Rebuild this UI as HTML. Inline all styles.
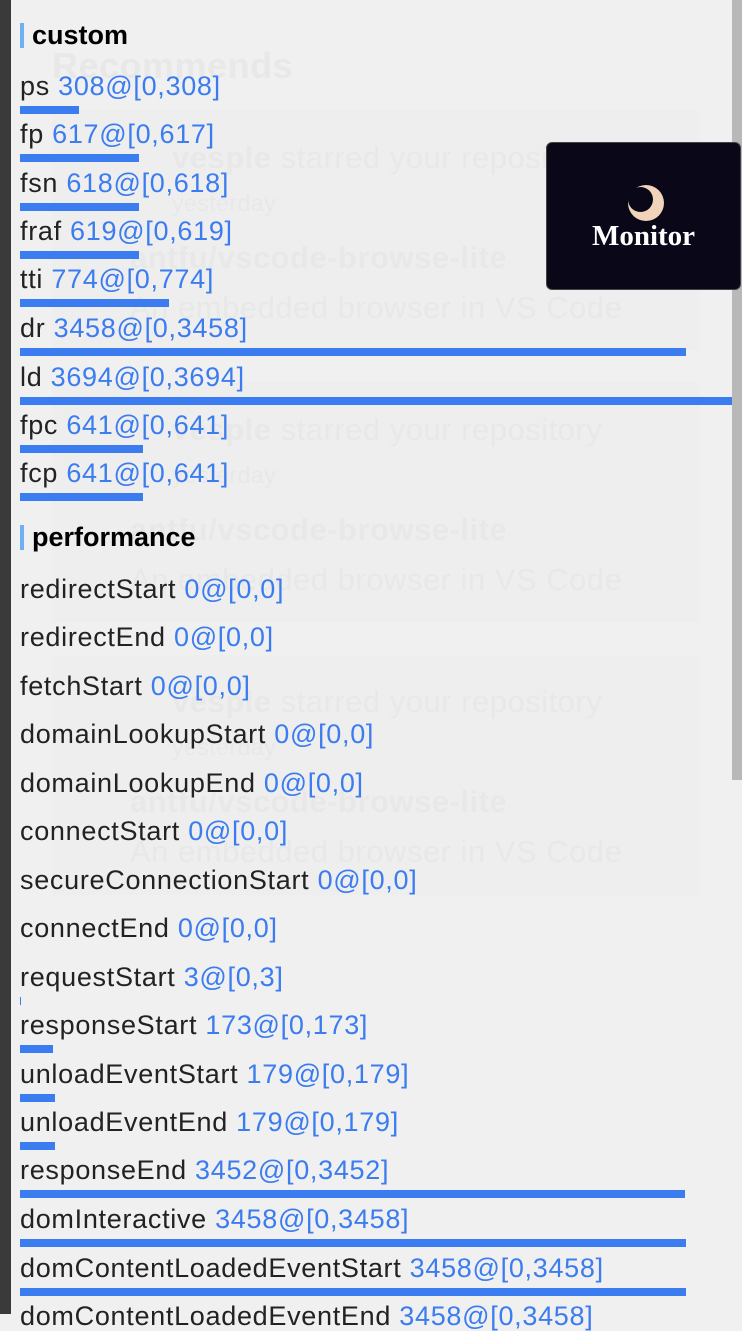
<!DOCTYPE html>
<html><head><meta charset="utf-8"><style>
body{margin:0;width:742px;height:1314px;overflow:hidden;background:#f0f0f0;font-family:"Liberation Sans",Arial,sans-serif;position:relative}
.g{position:absolute;color:#e8e8e8;font-size:31px;white-space:nowrap;letter-spacing:0.5px}
.card{position:absolute;left:52px;width:648px;background:#eeeeee}
.r{position:absolute;left:20px;font-size:27px;letter-spacing:0.7px;line-height:30px;color:#222;white-space:nowrap}
.r span{color:#3b7cf0}
.b{position:absolute;left:20px;height:8px;background:#3b7cf0}
.h{position:absolute;left:20px;font-size:27px;font-weight:bold;line-height:30px;color:#000;padding-left:12px}
.h:before{content:"";position:absolute;left:0;top:3px;width:4px;height:25px;background:#6fb0f5}
</style></head><body>
<div style="position:absolute;left:0;top:0;width:11px;height:1314px;background:#3a3a3a"></div>
<div class="card" style="top:110px;height:240px"></div>
<div class="card" style="top:382px;height:240px"></div>
<div class="card" style="top:655px;height:240px"></div>
<div class="g" style="left:52px;top:45px;font-size:36px;font-weight:bold">Recommends</div>
<div class="g" style="left:172px;top:140px"><b>vesple</b> starred your repository</div>
<div class="g" style="left:172px;top:190px;font-size:23px">yesterday</div>
<div class="g" style="left:130px;top:240px"><b>antfu/vscode-browse-lite</b></div>
<div class="g" style="left:130px;top:290px">An embedded browser in VS Code</div>
<div class="g" style="left:172px;top:412px"><b>vesple</b> starred your repository</div>
<div class="g" style="left:172px;top:462px;font-size:23px">yesterday</div>
<div class="g" style="left:130px;top:512px"><b>antfu/vscode-browse-lite</b></div>
<div class="g" style="left:130px;top:562px">An embedded browser in VS Code</div>
<div class="g" style="left:172px;top:684px"><b>vesple</b> starred your repository</div>
<div class="g" style="left:172px;top:734px;font-size:23px">yesterday</div>
<div class="g" style="left:130px;top:784px"><b>antfu/vscode-browse-lite</b></div>
<div class="g" style="left:130px;top:834px">An embedded browser in VS Code</div>
<div style="position:absolute;left:732px;top:0;width:10px;height:780px;background:#b8b8b8"></div>

<div class="h" style="top:20px">custom</div>
<div class="r" style="top:71px">ps <span>308@[0,308]</span></div><div class="b" style="top:106px;width:59px"></div>
<div class="r" style="top:119px">fp <span>617@[0,617]</span></div><div class="b" style="top:154px;width:119px"></div>
<div class="r" style="top:168px">fsn <span>618@[0,618]</span></div><div class="b" style="top:203px;width:119px"></div>
<div class="r" style="top:216px">fraf <span>619@[0,619]</span></div><div class="b" style="top:251px;width:119px"></div>
<div class="r" style="top:264px">tti <span>774@[0,774]</span></div><div class="b" style="top:299px;width:149px"></div>
<div class="r" style="top:313px">dr <span>3458@[0,3458]</span></div><div class="b" style="top:348px;width:666px"></div>
<div class="r" style="top:362px">ld <span>3694@[0,3694]</span></div><div class="b" style="top:397px;width:712px"></div>
<div class="r" style="top:410px">fpc <span>641@[0,641]</span></div><div class="b" style="top:445px;width:123px"></div>
<div class="r" style="top:458px">fcp <span>641@[0,641]</span></div><div class="b" style="top:493px;width:123px"></div>

<div class="h" style="top:522px">performance</div>
<div class="r" style="top:574px">redirectStart <span>0@[0,0]</span></div>
<div class="r" style="top:622px">redirectEnd <span>0@[0,0]</span></div>
<div class="r" style="top:671px">fetchStart <span>0@[0,0]</span></div>
<div class="r" style="top:719px">domainLookupStart <span>0@[0,0]</span></div>
<div class="r" style="top:768px">domainLookupEnd <span>0@[0,0]</span></div>
<div class="r" style="top:816px">connectStart <span>0@[0,0]</span></div>
<div class="r" style="top:865px">secureConnectionStart <span>0@[0,0]</span></div>
<div class="r" style="top:913px">connectEnd <span>0@[0,0]</span></div>
<div class="r" style="top:962px">requestStart <span>3@[0,3]</span></div><div class="b" style="top:997px;width:1px"></div>
<div class="r" style="top:1010px">responseStart <span>173@[0,173]</span></div><div class="b" style="top:1045px;width:33px"></div>
<div class="r" style="top:1059px">unloadEventStart <span>179@[0,179]</span></div><div class="b" style="top:1094px;width:35px"></div>
<div class="r" style="top:1107px">unloadEventEnd <span>179@[0,179]</span></div><div class="b" style="top:1142px;width:35px"></div>
<div class="r" style="top:1155px">responseEnd <span>3452@[0,3452]</span></div><div class="b" style="top:1190px;width:665px"></div>
<div class="r" style="top:1204px">domInteractive <span>3458@[0,3458]</span></div><div class="b" style="top:1239px;width:666px"></div>
<div class="r" style="top:1253px">domContentLoadedEventStart <span>3458@[0,3458]</span></div><div class="b" style="top:1288px;width:666px"></div>
<div class="r" style="top:1301px">domContentLoadedEventEnd <span>3458@[0,3458]</span></div>

<div style="position:absolute;left:546px;top:142px;width:193px;height:146px;background:#0a0818;border-radius:6px;border:1px solid #444"></div>
<div style="position:absolute;left:628px;top:185px;width:36px;height:36px;border-radius:50%;background:#f0d3b8"></div>
<div style="position:absolute;left:628px;top:187px;width:25px;height:25px;border-radius:50%;background:#0a0818"></div>
<div style="position:absolute;left:546px;top:220px;width:195px;text-align:center;color:#fff;font-family:'Liberation Serif',serif;font-weight:bold;font-size:29px;line-height:32px">Monitor</div>
</body></html>
